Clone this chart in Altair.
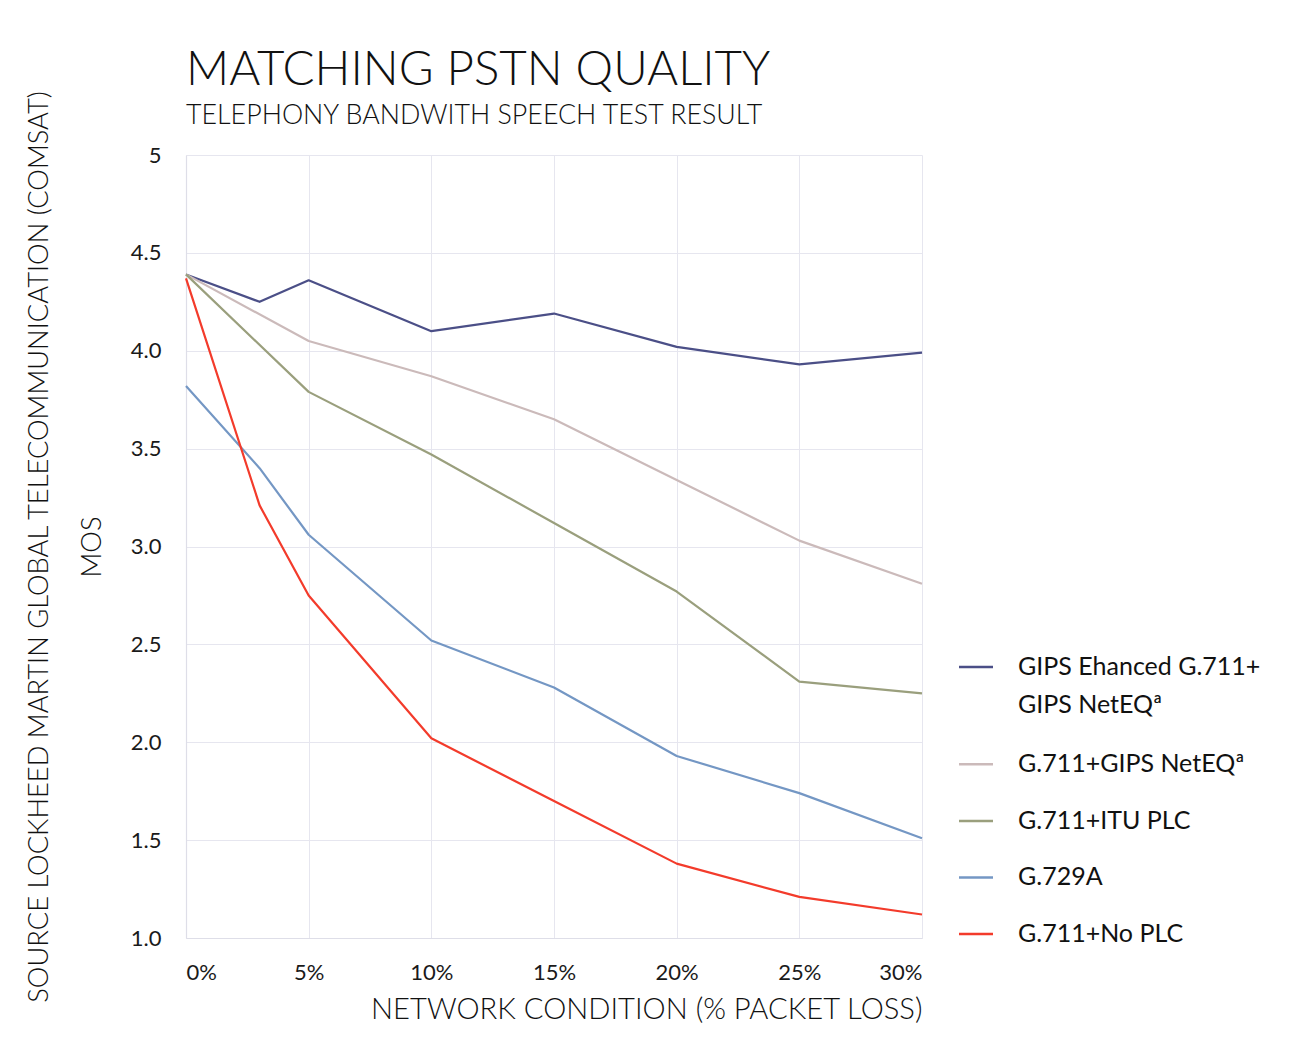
import altair as alt
import pandas as pd

# ---------------- data ----------------
series_names = [
    "GIPS Ehanced G.711+ GIPS NetEQª",
    "G.711+GIPS NetEQª",
    "G.711+ITU PLC",
    "G.729A",
    "G.711+No PLC",
]
legend_labels = [
    "GIPS Ehanced G.711+\nGIPS NetEQª",
    "G.711+GIPS NetEQª",
    "G.711+ITU PLC",
    "G.729A",
    "G.711+No PLC",
]
series_colors = ["#4b4f87", "#cbbaba", "#9a9f7d", "#7497c4", "#f33b2b"]

loss_gips_enh = [0, 3, 5, 10, 15, 20, 25, 30]
mos_gips_enh = [4.39, 4.25, 4.36, 4.10, 4.19, 4.02, 3.93, 3.99]

loss_g711_neteq = [0, 5, 10, 15, 20, 25, 30]
mos_g711_neteq = [4.39, 4.05, 3.87, 3.65, 3.34, 3.03, 2.81]

loss_g711_itu = [0, 5, 10, 15, 20, 25, 30]
mos_g711_itu = [4.39, 3.79, 3.47, 3.12, 2.77, 2.31, 2.25]

loss_g729a = [0, 3, 5, 10, 15, 20, 25, 30]
mos_g729a = [3.82, 3.40, 3.06, 2.52, 2.28, 1.93, 1.74, 1.51]

loss_g711_noplc = [0, 3, 5, 10, 15, 20, 25, 30]
mos_g711_noplc = [4.37, 3.21, 2.75, 2.02, 1.70, 1.38, 1.21, 1.12]

x_ticks = [0, 5, 10, 15, 20, 25, 30]
y_ticks = [1.0, 1.5, 2.0, 2.5, 3.0, 3.5, 4.0, 4.5, 5.0]

title_text = "MATCHING PSTN QUALITY"
subtitle_text = "TELEPHONY BANDWITH SPEECH TEST RESULT"
x_title = "NETWORK CONDITION (% PACKET LOSS)"
y_title = ["SOURCE LOCKHEED MARTIN GLOBAL TELECOMMUNICATION (COMSAT)", "MOS"]

# ---------------- tables ----------------
rows = []
all_x = [loss_gips_enh, loss_g711_neteq, loss_g711_itu, loss_g729a, loss_g711_noplc]
all_y = [mos_gips_enh, mos_g711_neteq, mos_g711_itu, mos_g729a, mos_g711_noplc]
for k, (name, xs, ys) in enumerate(zip(series_names, all_x, all_y)):
    for xv, yv in zip(xs, ys):
        rows.append({"series": name, "loss": xv, "mos": yv, "k": k})
df = pd.DataFrame(rows)

leg_df = pd.DataFrame({"series": series_names, "label": legend_labels,
                       "rank": list(range(len(series_names)))})

FONT = "Lato"
color_scale = alt.Scale(domain=series_names, range=series_colors)

main = alt.Chart(df).mark_line(strokeWidth=2.2, strokeJoin="round").encode(
    x=alt.X("loss:Q", scale=alt.Scale(domain=[0, 30], nice=False),
            axis=alt.Axis(values=x_ticks, labelExpr="datum.value + '%'",
                          title=x_title, titleAnchor="end", titleFontSize=29.2,
                          titlePadding=12, labelPadding=24, labelFontSize=22)),
    y=alt.Y("mos:Q", scale=alt.Scale(domain=[1, 5], nice=False, zero=False),
            axis=alt.Axis(values=y_ticks,
                          labelExpr="datum.value == 5 ? '5' : format(datum.value, '.1f')",
                          title=y_title, titleFontSize=27.3, titleLineHeight=53,
                          titlePadding=24, labelPadding=25, labelFontSize=22)),
    color=alt.Color("series:N", scale=color_scale, legend=None),
    order=alt.Order("k:Q"),
).properties(
    width=736, height=783,
    title=alt.TitleParams(text=title_text, subtitle=subtitle_text, anchor="start",
                          frame="group", font=FONT, fontSize=47.5, fontWeight=300,
                          subtitleFont=FONT, subtitleFontSize=26.8, subtitleFontWeight=300,
                          subtitleColor="#111",
                          color="#111", subtitlePadding=9, offset=-40),
)

legend_base = alt.Chart(leg_df).transform_calculate(
    slot="datum.rank + (datum.rank > 0 ? 0.72 : 0)"
)
leg_y = alt.Y("slot:Q", scale=alt.Scale(domain=[-9.05, 4.79], reverse=True, nice=False, zero=False),
              axis=None)
leg_rule = legend_base.mark_rule(strokeWidth=2.5).encode(
    x=alt.value(0), x2=alt.value(34), y=leg_y,
    color=alt.Color("series:N", scale=color_scale, legend=None),
)
leg_text = legend_base.mark_text(align="left", baseline="top", dy=-12, lineBreak="\n",
                                 lineHeight=38, fontSize=25, font=FONT, color="#111").encode(
    x=alt.value(59), y=leg_y, text="label:N",
)
legend = alt.layer(leg_rule, leg_text).properties(width=290, height=783)

chart = alt.hconcat(main, legend, spacing=37, bounds="flush").configure_view(
    stroke=None
).configure_axis(
    grid=True, gridColor="#e6e6ef", gridWidth=1,
    domainColor="#dedee8", domainWidth=1.2, ticks=False,
    labelFont=FONT, labelColor="#1a1a1a",
    titleFont=FONT, titleFontWeight=300, titleColor="#111",
).properties(
    padding={"left": 17, "top": 38, "right": 5, "bottom": 5},
    background="white",
)

chart.save("out.html", embed_options={"renderer": "svg", "actions": False})
